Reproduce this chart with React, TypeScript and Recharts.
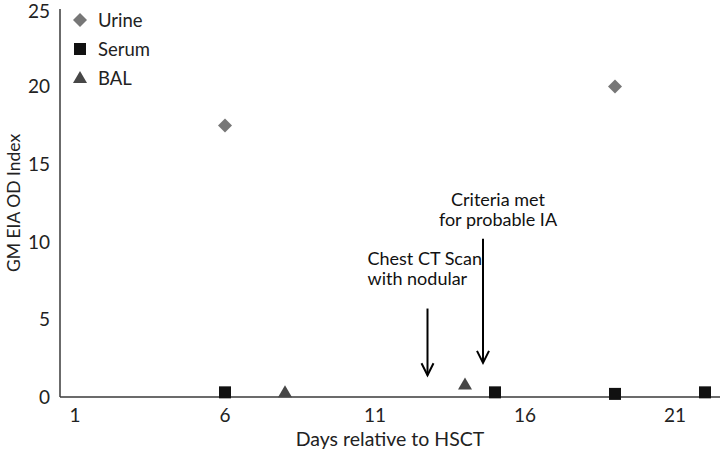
import { ScatterChart, Scatter, XAxis, YAxis, ReferenceLine, Label } from 'recharts'

const urine = [
  { day: 6, value: 17.5 },
  { day: 19, value: 20 },
]
const serum = [
  { day: 6, value: 0.3 },
  { day: 15, value: 0.3 },
  { day: 19, value: 0.2 },
  { day: 22, value: 0.3 },
]
const bal = [
  { day: 8, value: 0.3 },
  { day: 14, value: 0.8 },
]
const xTicks = [1, 6, 11, 16, 21]
const yTicks = [0, 5, 10, 15, 20, 25]

// arrow annotations: x position, arrow top / bottom (y units), label lines
const arrows = [
  { day: 12.75, top: 5.7, bottom: 1.4, lines: ['Chest CT Scan', 'with nodular'] },
  { day: 14.6, top: 10.2, bottom: 2.2, lines: ['Criteria met', 'for probable IA'] },
]
// label placement for each arrow (px): text anchor, dx from arrow, gap above arrow top
const labelStyle = [
  { anchor: 'start', dx: -60, gap: 24 },
  { anchor: 'middle', dx: 15, gap: 13 },
]

const FONT = 'Lato, "Open Sans", sans-serif'
const AXIS = '#3a3a3a'
const FS = 18.5

const Diamond = ({ cx, cy }: any) => (
  <polygon points={`${cx},${cy - 7} ${cx + 7},${cy} ${cx},${cy + 7} ${cx - 7},${cy}`} fill="#777777" />
)
const Square = ({ cx, cy }: any) => <rect x={cx - 6} y={cy - 6} width={12} height={12} fill="#111111" />
const Triangle = ({ cx, cy }: any) => (
  <polygon points={`${cx},${cy - 7} ${cx + 7},${cy + 5} ${cx - 7},${cy + 5}`} fill="#474747" />
)

const legendItems = [
  { name: 'Urine', Icon: Diamond },
  { name: 'Serum', Icon: Square },
  { name: 'BAL', Icon: Triangle },
]

function LegendBox() {
  return (
    <svg width={120} height={100} style={{ position: 'absolute', left: 70, top: 6 }}>
      {legendItems.map((it, i) => (
        <g key={it.name}>
          <it.Icon cx={10} cy={14 + i * 29} />
          <text x={28} y={14 + i * 29} dominantBaseline="central" fontFamily={FONT} fontSize={FS} fill="#222">
            {it.name}
          </text>
        </g>
      ))}
    </svg>
  )
}

function arrowShape(lines: string[], ls: { anchor: string; dx: number; gap: number }) {
  return (props: any) => {
    const { x1, y1, x2, y2 } = props
    return (
      <g>
        <line x1={x1} y1={y1} x2={x2} y2={y2} stroke="#000" strokeWidth={2} />
        <polyline points={`${x2 - 6},${y2 - 12} ${x2},${y2} ${x2 + 6},${y2 - 12}`} fill="none" stroke="#000" strokeWidth={2} />
        {lines.map((l, i) => (
          <text
            key={l}
            x={x1 + ls.dx}
            y={y1 - ls.gap - (lines.length - 1 - i) * 20}
            textAnchor={ls.anchor as any}
            fontFamily={FONT}
            fontSize={18}
            fill="#111"
          >
            {l}
          </text>
        ))}
      </g>
    )
  }
}

export default function App() {
  return (
    <div style={{ position: 'absolute', left: 0, top: 0, width: 720, height: 454, background: '#fff' }}>
      <ScatterChart width={720} height={454} margin={{ top: 9, right: 0, bottom: 0, left: 0 }}>
        <XAxis
          type="number"
          dataKey="day"
          domain={[0.5, 22.5]}
          ticks={xTicks}
          tickLine={false}
          tickSize={0}
          tickMargin={12}
          axisLine={{ stroke: AXIS, strokeWidth: 1.5 }}
          tick={{ fontFamily: FONT, fontSize: 19, fill: '#222' }}
          height={57}
        >
          <Label value="Days relative to HSCT" position="insideBottom" offset={8} style={{ fontFamily: FONT, fontSize: 19.5, fill: '#222' }} />
        </XAxis>
        <YAxis
          type="number"
          dataKey="value"
          domain={[0, 25]}
          ticks={yTicks}
          tickLine={false}
          tickSize={0}
          tickMargin={10}
          width={60}
          axisLine={{ stroke: AXIS, strokeWidth: 1.5 }}
          tick={{ fontFamily: FONT, fontSize: 19, fill: '#222' }}
        >
          <Label
            content={({ viewBox }: any) => (
              <text
                x={13}
                y={viewBox.y + viewBox.height / 2}
                transform={`rotate(-90 13 ${viewBox.y + viewBox.height / 2})`}
                textAnchor="middle"
                dominantBaseline="central"
                fontFamily={FONT}
                fontSize={17.5}
                fill="#222"
              >
                GM EIA OD Index
              </text>
            )}
          />
        </YAxis>
        <Scatter name="Urine" data={urine} shape={<Diamond />} isAnimationActive={false} />
        <Scatter name="Serum" data={serum} shape={<Square />} isAnimationActive={false} />
        <Scatter name="BAL" data={bal} shape={<Triangle />} isAnimationActive={false} />
        {arrows.map((a, i) => (
          <ReferenceLine
            key={a.day}
            segment={[
              { x: a.day, y: a.top },
              { x: a.day, y: a.bottom },
            ]}
            shape={arrowShape(a.lines, labelStyle[i])}
            ifOverflow="visible"
          />
        ))}
      </ScatterChart>
      <LegendBox />
    </div>
  )
}
